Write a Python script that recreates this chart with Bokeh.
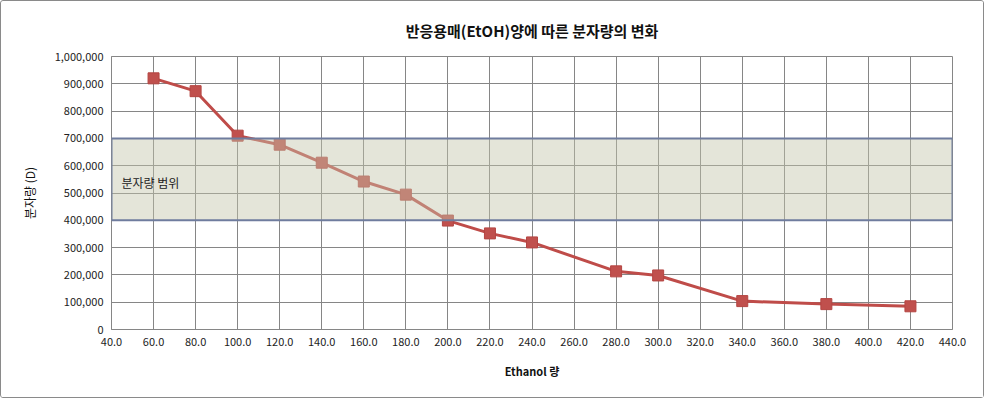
from bokeh.plotting import figure
from bokeh.models import (BoxAnnotation, Label, FixedTicker, NumeralTickFormatter,
                          Range1d, ColumnDataSource)
from bokeh.embed import file_html
from bokeh.resources import INLINE

# data
ethanol = [60, 80, 100, 120, 140, 160, 180, 200, 220, 240, 280, 300, 340, 380, 420]
mw = [920000, 873000, 710000, 677000, 611000, 542000, 494000, 399000, 352000, 319000,
      213000, 198000, 104000, 93000, 85000]
x_ticks = list(range(40, 441, 20))
y_ticks = list(range(0, 1000001, 100000))
band_low, band_high = 400000, 700000
title_text = "반응용매(EtOH)양에 따른 분자량의 변화"
x_label = "Ethanol 량"
y_label = "분자량 (D)"
band_label = "분자량 범위"

FONT = "Noto Sans CJK KR"

p = figure(width=984, height=398, output_backend="svg", toolbar_location=None,
           x_range=Range1d(40, 440), y_range=Range1d(0, 1000000),
           min_border_left=110, min_border_right=33, min_border_top=55, min_border_bottom=70)
p.styles = {"border": "1px solid #8a8a8a", "border-radius": "3px"}

p.title.text = title_text
p.title.text_font = FONT
p.title.text_font_size = "15px"
p.title.text_font_style = "bold"
p.title.align = "center"
p.title.offset = -41
p.title.text_color = "#111111"
p.title.text_line_height = 0.7
p.title.standoff = 32

src = ColumnDataSource(dict(x=ethanol, y=mw))
p.line("x", "y", source=src, line_color="#bf4c49", line_width=3)
p.scatter("x", "y", source=src, marker="square", size=11, fill_color="#c0504d",
          line_color="#b44542", line_width=1)

band = BoxAnnotation(bottom=band_low, top=band_high, fill_color="#c3c5ab", fill_alpha=0.45,
                     line_color="#6f7c9e", line_alpha=1.0, line_width=2)
p.add_layout(band)
p.add_layout(Label(x=40, y=(band_low + band_high) / 2 - 10000, x_offset=10, text=band_label,
                   text_font=FONT, text_font_size="12px", text_baseline="middle",
                   text_color="#222222"))

for ax in (p.xaxis[0], p.yaxis[0]):
    ax.major_tick_out = 0
    ax.major_tick_in = 0
    ax.minor_tick_out = 0
    ax.minor_tick_in = 0
    ax.axis_line_color = "#868686"
    ax.major_label_text_font = FONT
    ax.major_label_text_font_size = "11px"
    ax.major_label_text_color = "#222222"
    ax.axis_label_text_font = FONT
    ax.axis_label_text_color = "#111111"

p.xaxis.ticker = FixedTicker(ticks=x_ticks)
p.yaxis.ticker = FixedTicker(ticks=y_ticks)
p.xaxis.formatter = NumeralTickFormatter(format="0.0")
p.yaxis.formatter = NumeralTickFormatter(format="0,0")
p.xaxis.major_label_standoff = 8
p.yaxis.major_label_standoff = 8

p.xaxis.axis_label = x_label
p.xaxis.axis_label_text_font_size = "11px"
p.xaxis.axis_label_text_font_style = "bold"
p.xaxis.axis_label_standoff = 14
p.yaxis.axis_label = y_label
p.yaxis.axis_label_text_font_size = "12px"
p.yaxis.axis_label_text_font_style = "normal"
p.yaxis.axis_label_standoff = 14

p.xgrid.ticker = FixedTicker(ticks=x_ticks)
p.ygrid.ticker = FixedTicker(ticks=y_ticks)
p.grid.grid_line_color = "#868686"
p.grid.grid_line_width = 1
p.outline_line_color = "#868686"
p.background_fill_color = "white"
p.border_fill_color = "white"

open("out.html", "w").write(file_html(p, INLINE))
